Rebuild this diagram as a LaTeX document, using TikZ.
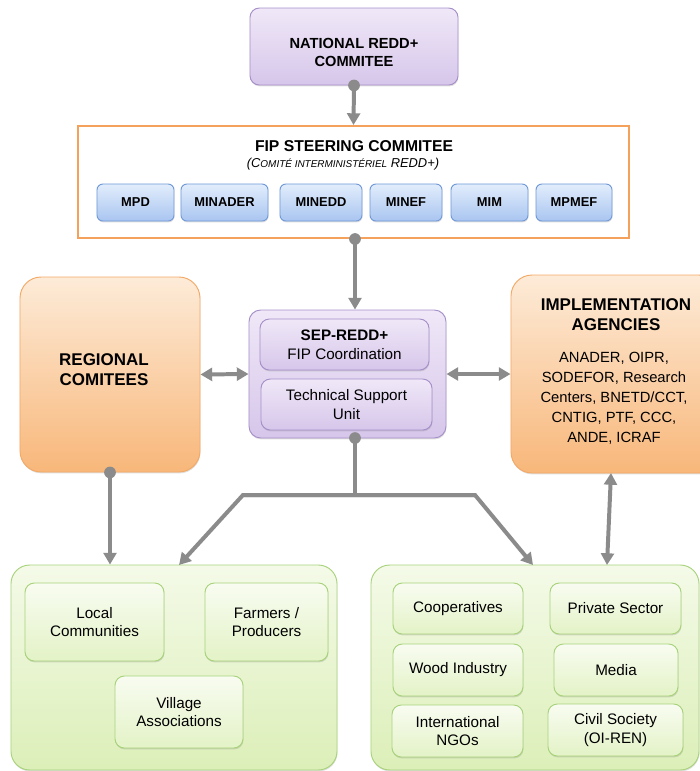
\documentclass[tikz,border=0pt]{standalone}
\usepackage{fontspec}
\setmainfont{Liberation Sans}
\usetikzlibrary{arrows.meta,shadows}

\definecolor{linegray}{HTML}{8B8B8B}
\definecolor{purpleline}{HTML}{A690C8}
\definecolor{purpletop}{HTML}{F0E8F8}
\definecolor{purplebot}{HTML}{D6C6EA}
\definecolor{orangeline}{HTML}{F3A966}
\definecolor{orangetop}{HTML}{FDEBD8}
\definecolor{orangebot}{HTML}{F8B77A}
\definecolor{greenline}{HTML}{A8D27C}
\definecolor{greentop}{HTML}{F4FAE8}
\definecolor{greenbot}{HTML}{DCEFB8}
\definecolor{blueline}{HTML}{6E98D6}
\definecolor{bluetop}{HTML}{E2EDFC}
\definecolor{bluebot}{HTML}{A9C5F0}
\definecolor{fipframe}{HTML}{F4A25B}

\tikzset{
    box/.style={rounded corners=8pt, line width=0.8pt, align=center, inner sep=0pt,
        font=\fontsize{13}{16}\selectfont,
        drop shadow={shadow xshift=0.4pt, shadow yshift=-1.2pt, opacity=0.25}},
    purplebox/.style={box, draw=purpleline, top color=purpletop, bottom color=purplebot},
    orangebox/.style={box, rounded corners=18pt, draw=orangeline, top color=orangetop, bottom color=orangebot},
    greenbox/.style={box, rounded corners=16pt, draw=greenline, top color=greentop, bottom color=greenbot},
    greenitem/.style={box, draw=greenline, top color=greentop!60!white, bottom color=greenbot!70!greentop, drop shadow={opacity=0}},
    ministry/.style={box, rounded corners=5pt, draw=blueline, top color=bluetop, bottom color=bluebot,
        minimum height=1.11cm, font=\fontsize{11}{13}\selectfont\bfseries},
    title/.style={font=\fontsize{12.5}{15.3}\selectfont\bfseries, align=center},
    heading/.style={font=\fontsize{14.5}{17}\selectfont\bfseries, align=center},
    conn/.style={draw=linegray, line width=3.4pt, -{Triangle[length=10pt,width=11pt]}},
    twoway/.style={conn, {Triangle[length=10pt,width=11pt]}-{Triangle[length=10pt,width=11pt]}},
    dot/.style={fill=linegray},
}

\begin{document}
\begin{tikzpicture}[x=0.03cm,y=-0.03cm]
    \useasboundingbox (0,0) rectangle (700,771);
    \clip (0,0) rectangle (700,771);

    % Coordinates
    \coordinate (sepout) at (355,438);
    \coordinate (fork) at (355,495);
    \coordinate (forkL) at (243,495);
    \coordinate (forkR) at (475,495);
    \coordinate (leftin) at (179,565);
    \coordinate (rightin) at (533,565);
    \coordinate (implout) at (611,473);
    \coordinate (implin) at (607,565);

    % Top
    \node[purplebox, minimum width=6.24cm, minimum height=2.31cm] (nat) at (354,46.5) {};
    \node[title] (natlabel) at (354,52) {NATIONAL REDD+\\COMMITEE};

    \node[draw=fipframe, line width=1.7pt, fill=white, minimum width=16.53cm, minimum height=3.36cm] (fip) at (353.5,182) {};
    \node[font=\fontsize{13.4}{16}\selectfont\bfseries] (fiptitle) at (354,146) {FIP STEERING COMMITEE};
    \node[font=\fontsize{11}{13}\selectfont\itshape] (fipsub) at (343,164)
        {(C{\fontsize{8.5}{10}\selectfont OMITÉ INTERMINISTÉRIEL} REDD+)};

    % Ministries
    \node[ministry, minimum width=2.31cm] (mpd) at (135.5,202.5) {MPD};
    \node[ministry, minimum width=2.61cm] (minader) at (224.5,202.5) {MINADER};
    \node[ministry, minimum width=2.46cm] (minedd) at (321,202.5) {MINEDD};
    \node[ministry, minimum width=2.16cm] (minef) at (406,202.5) {MINEF};
    \node[ministry, minimum width=2.31cm] (mim) at (489.5,202.5) {MIM};
    \node[ministry, minimum width=2.28cm] (mpmef) at (574,202.5) {MPMEF};

    % Middle row
    \node[orangebox, minimum width=5.4cm, minimum height=5.85cm] (reg) at (110,374.5) {};
    \node[heading] (reglabel) at (104,370) {REGIONAL\\COMITEES};

    \node[purplebox, rounded corners=10pt, minimum width=5.91cm, minimum height=3.84cm] (sep) at (347.5,374) {};
    \node[purplebox, minimum width=5.07cm, minimum height=1.53cm] (sepredd) at (344.5,344.5)
        {\bfseries SEP-REDD+\\FIP Coordination};
    \node[purplebox, minimum width=5.13cm, minimum height=1.53cm] (tsu) at (346.5,404.5)
        {Technical Support\\Unit};

    \node[orangebox, minimum width=6.27cm, minimum height=5.94cm] (impl) at (615.5,374) {};
    \node[heading] (impltitle) at (616,315) {IMPLEMENTATION\\AGENCIES};
    \node[font=\fontsize{12.6}{17}\selectfont, align=center] (impltext) at (614,398)
        {ANADER, OIPR,\\SODEFOR, Research\\Centers, BNETD/CCT,\\CNTIG, PTF, CCC,\\ANDE, ICRAF};

    % Bottom row
    \node[greenbox, minimum width=9.78cm, minimum height=6.15cm] (local) at (174,667.5) {};
    \node[greenitem, minimum width=4.17cm, minimum height=2.34cm] (comm) at (94.5,622) {Local\\Communities};
    \node[greenitem, minimum width=3.69cm, minimum height=2.34cm] (farm) at (266.5,622) {Farmers /\\Producers};
    \node[greenitem, minimum width=3.84cm, minimum height=2.16cm] (vill) at (179,712) {Village\\Associations};

    \node[greenbox, minimum width=9.84cm, minimum height=6.15cm] (actors) at (535,667.5) {};
    \node[greenitem, minimum width=3.9cm, minimum height=1.53cm] (coop) at (458,608.5) {Cooperatives};
    \node[greenitem, minimum width=3.93cm, minimum height=1.53cm] (priv) at (615.5,608.5) {Private Sector};
    \node[greenitem, minimum width=3.9cm, minimum height=1.56cm] (wood) at (458,670) {Wood Industry};
    \node[greenitem, minimum width=3.72cm, minimum height=1.56cm] (media) at (616,670) {Media};
    \node[greenitem, minimum width=3.93cm, minimum height=1.56cm] (ngo) at (457.5,731) {International\\NGOs};
    \node[greenitem, minimum width=4.05cm, minimum height=1.56cm] (civil) at (615.5,730) {Civil Society\\(OI-REN)};

    % draw arrows
    \draw[conn] (nat.south) -- (fip.north);
    \draw[conn] (fip.south -| sepout) -- (sep.north -| sepout);
    \draw[twoway] (reg.east) -- (sep.west);
    \draw[twoway] (sep.east) -- (impl.west);
    \draw[draw=linegray, line width=3.4pt] (sepout) -- (fork);
    \draw[conn] (forkR) -- (forkL) -- (leftin);
    \draw[conn] (forkL) -- (forkR) -- (rightin);
    \draw[conn] (reg.south) -- (reg.south |- local.north);
    \draw[twoway] (implout) -- (implin);

    % Points
    \fill[dot] (nat.south) circle (5pt);
    \fill[dot] (fip.south -| sepout) circle (5pt);
    \fill[dot] (sepout) circle (5pt);
    \fill[dot] (reg.south) circle (5pt);
\end{tikzpicture}
\end{document}
